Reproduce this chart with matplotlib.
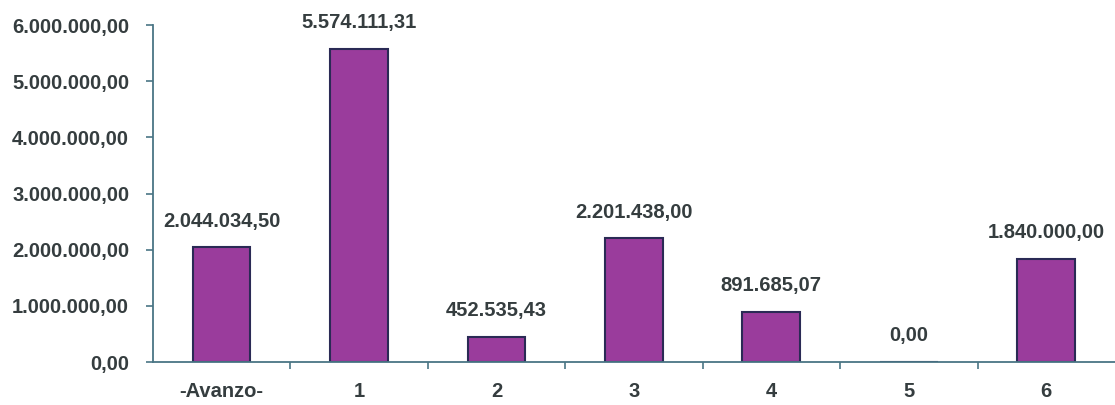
import numpy as np
import matplotlib
matplotlib.use("Agg")
import matplotlib.pyplot as plt
from matplotlib.ticker import FuncFormatter, FixedLocator

categories = ["-Avanzo-", "1", "2", "3", "4", "5", "6"]
values = [2044034.50, 5574111.31, 452535.43, 2201438.00, 891685.07, 0.00, 1840000.00]

def es_fmt(v, pos=None):
    s = "{:,.2f}".format(v)
    return s.replace(",", "X").replace(".", ",").replace("X", ".")

plt.rcParams['font.family'] = ['Liberation Sans', 'DejaVu Sans']
text_col = '#353d3f'
axis_col = '#4a7585'
fsize = 14.5

fig = plt.figure(figsize=(11.15, 4.05), dpi=100)
ax = fig.add_axes([0.137, 0.106, 0.863, 0.832])

x = np.arange(len(categories))
bars = ax.bar(x, values, width=0.42, color='#9a3c9c', edgecolor='#2a2a55', linewidth=1.5)

for xi, v in zip(x, values):
    ax.annotate(es_fmt(v), (xi, v), xytext=(0, 12), textcoords='offset points',
                ha='center', va='bottom', fontsize=fsize, fontweight='bold',
                color=text_col, annotation_clip=False)

ax.set_xlim(-0.5, len(categories) - 0.5)
ax.set_ylim(0, 6000000)
ax.set_yticks(np.arange(0, 6000001, 1000000))
ax.yaxis.set_major_formatter(FuncFormatter(es_fmt))

ax.set_xticks(x)
ax.set_xticklabels(categories)
ax.xaxis.set_minor_locator(FixedLocator(x[:-1] + 0.5))

ax.tick_params(axis='x', which='major', length=0, pad=14)
ax.tick_params(axis='x', which='minor', length=5, direction='out', color=axis_col, width=1.2)
ax.tick_params(axis='y', length=5, direction='out', color=axis_col, width=1.2, pad=12)
ax.tick_params(labelsize=fsize, labelcolor=text_col)
for lab in ax.get_xticklabels() + ax.get_yticklabels():
    lab.set_fontweight('bold')

for side in ['top', 'right']:
    ax.spines[side].set_visible(False)
for side in ['left', 'bottom']:
    ax.spines[side].set_color(axis_col)
    ax.spines[side].set_linewidth(1.3)

fig.savefig('out.png', dpi=100)
